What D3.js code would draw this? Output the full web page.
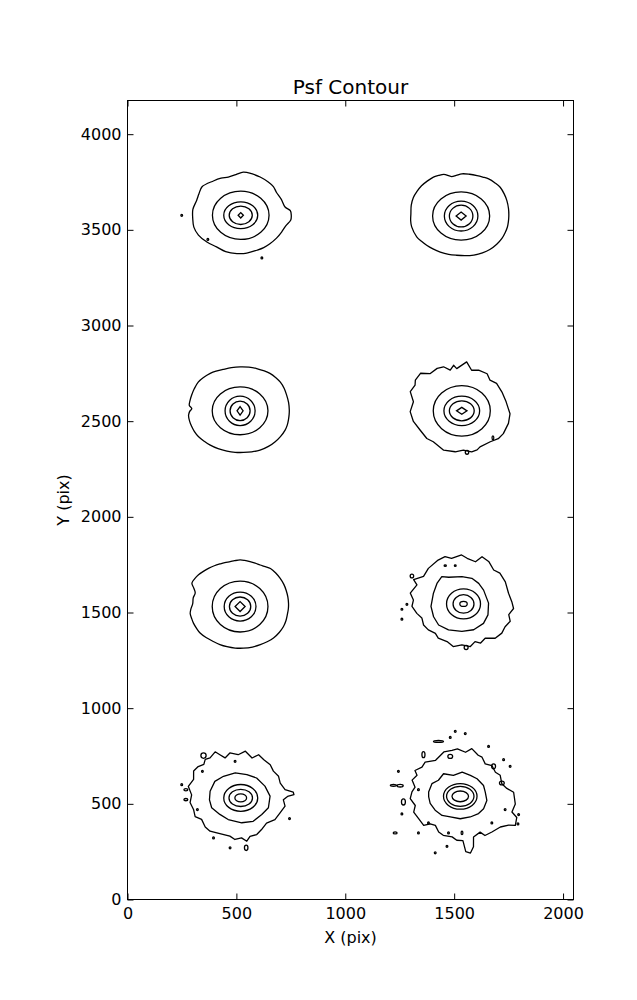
<!DOCTYPE html>
<html><head><meta charset="utf-8">
<script src="https://cdn.jsdelivr.net/npm/d3@7"></script>
<style>body{margin:0;background:#fff}svg{display:block}text{font-family:"DejaVu Sans",sans-serif;fill:#000}</style>
</head><body>
<svg id="chart" width="637" height="1000"></svg>
<script>
// ---------------- data ----------------
const chartTitle = "Psf Contour";
const xLabel = "X (pix)";
const yLabel = "Y (pix)";
const xDomain = [0, 2048];
const yDomain = [0, 4176];
const xTicks = [0, 500, 1000, 1500, 2000];
const yTicks = [0, 500, 1000, 1500, 2000, 2500, 3000, 3500, 4000];

// PSF centres (pix)
const starX = [520, 1532, 517, 1535, 517, 1543, 520, 1528];
const starY = [3576, 3572, 2554, 2554, 1531, 1545, 531, 539];
// innermost contour (diamond or blob), half sizes (pix)
const coreKind = ["diamond", "diamond", "diamond", "diamond", "diamond", "blob", "blob", "blob"];
const coreRX = [12, 23, 14, 24, 23, 17, 27, 38];
const coreRY = [14, 21, 22, 18, 26, 13, 21, 28];
// second and third contour (ellipses), half sizes (pix)
const ring2RX = [53, 54, 46, 57, 49, 48, 54, 63];
const ring2RY = [48, 57, 51, 52, 50, 48, 45, 52];
const ring3RX = [78, 77, 69, 82, 73, 78, 78, 77];
const ring3RY = [70, 78, 77, 77, 76, 78, 70, 67];
// fourth contour: ellipse for the smooth PSFs (null where irregular)
const ring4RX = [130, 131, 128, 131, 128, null, null, null];
const ring4RY = [126, 126, 125, 132, 133, null, null, null];
// irregular fourth contours, [angle deg, radius pix]
const ring4LR = [[2,115],[38,117],[57,128],[74,139],[93,143],[116,155],[125,174],[138,163],[158,149],[185,150],[206,153],[224,159],[243,152],[267,144],[289,143],[312,137],[333,126]];
const ring4BL = [[4,135],[29,127],[55,127],[77,125],[101,133],[125,138],[144,147],[166,145],[184,144],[201,143],[222,129],[243,127],[272,130],[295,135],[318,130],[338,137]];
const ring4BR = [[11,117],[28,121],[50,120],[67,119],[86,127],[106,114],[123,141],[140,131],[153,146],[171,147],[181,145],[195,143],[212,136],[230,130],[247,117],[270,117],[293,117],[313,123],[329,125],[350,124]];

// outermost contours, [angle deg, radius pix]
const outerTL = [[0,232],[6,229],[12,208],[24,204],[36,203],[45,212],[54,215],[66,219],[77,223],[87,226],[96,214],[106,208],[115,214],[125,219],[140,232],[150,222],[159,217],[172,222],[184,221],[196,224],[208,220],[222,209],[236,199],[250,202],[265,201],[278,200],[292,197],[302,199],[312,200],[324,203],[335,207],[345,214],[354,231]];
const outerTR = [[0,219],[10,221],[21,225],[30,229],[40,234],[48,233],[57,232],[64,227],[71,224],[80,222],[89,221],[96,214],[102,211],[110,232],[116,236],[122,240],[130,240],[139,241],[148,240],[156,240],[166,236],[177,231],[186,233],[194,234],[208,231],[216,225],[224,220],[233,215],[243,211],[254,208],[264,206],[275,208],[286,212],[297,216],[307,219],[318,220],[328,221],[337,220],[345,220],[352,219]];
const outerML = [[1,226],[11,227],[21,229],[30,234],[39,238],[47,239],[55,239],[63,236],[71,234],[80,232],[90,230],[100,229],[110,230],[118,235],[125,239],[134,242],[142,244],[151,240],[160,237],[167,236],[173,235],[177,222],[181,232],[186,238],[193,238],[200,237],[207,236],[215,234],[224,229],[232,226],[243,222],[254,219],[264,218],[274,218],[284,221],[294,225],[305,227],[315,228],[324,229],[334,230],[341,229],[348,227],[355,226]];
const outerMR = [[13,209],[28,209],[42,215],[51,206],[59,226],[70,226],[78,217],[85,257],[96,222],[99,241],[104,219],[110,245],[117,249],[127,243],[134,273],[143,267],[148,253],[157,257],[168,227],[181,237],[194,229],[208,216],[222,216],[231,208],[248,222],[262,216],[272,205],[282,219],[289,216],[294,206],[309,208],[319,222],[328,225],[343,224],[356,222]];
const outerLL = [[4,223],[13,225],[22,228],[30,232],[39,236],[47,240],[55,243],[61,239],[67,236],[73,237],[79,239],[85,242],[90,244],[96,241],[101,239],[107,240],[112,241],[119,244],[126,247],[133,250],[139,253],[145,254],[151,253],[156,232],[161,218],[168,220],[176,218],[183,226],[189,232],[196,231],[202,231],[210,230],[217,230],[226,225],[236,220],[245,219],[254,218],[264,218],[274,218],[285,219],[295,220],[304,222],[313,225],[323,225],[332,225],[341,223],[349,221],[357,222]];
const outerLR = [[3,222],[15,214],[31,224],[44,232],[52,225],[62,249],[71,261],[76,227],[86,239],[92,256],[103,244],[109,261],[117,257],[131,246],[142,233],[151,262],[155,236],[167,251],[175,231],[183,237],[193,220],[201,205],[211,214],[220,211],[230,201],[237,213],[249,211],[258,228],[268,214],[278,225],[285,204],[291,219],[299,205],[309,231],[319,233],[328,225],[337,233],[345,215],[354,231]];
const outerBL = [[2,215],[4,245],[7,243],[12,208],[23,197],[33,207],[43,205],[52,220],[62,226],[70,240],[76,215],[85,245],[93,226],[102,240],[109,221],[113,245],[116,268],[124,252],[129,259],[134,244],[140,255],[147,258],[156,237],[166,248],[176,226],[186,234],[196,225],[205,231],[212,212],[223,223],[231,224],[239,213],[248,207],[256,206],[263,219],[271,209],[277,228],[282,205],[291,205],[300,191],[312,177],[324,194],[337,197],[348,208],[357,196]];
const outerBR = [[5,246],[11,218],[19,202],[31,214],[38,205],[48,217],[56,205],[64,228],[69,230],[78,255],[84,232],[93,249],[99,243],[108,244],[121,220],[132,241],[139,233],[147,248],[151,227],[159,237],[167,213],[174,223],[183,230],[193,212],[201,229],[211,224],[222,226],[226,199],[233,190],[242,211],[249,218],[260,215],[266,230],[273,232],[275,290],[279,300],[283,270],[286,221],[296,208],[299,234],[308,236],[319,244],[326,268],[329,295],[337,282],[341,251],[351,256]];

// small isolated contours (noise islands): centre and half sizes (pix)
const islandX = [249,369,617, 1678,1559, 1306,1459,1505,1260,1283,1260,1555, 349,494,344,249,268,268,321,395,471,545,744, 1505,1551,1482,1428,1658,1727,1757,1681,1359,1482,1244,1221,1252,1267,1260,1336,1229,1336,1382,1474,1536,1673,1734,1796,1793,1413,1467,1719];
const islandY = [3576,3450,3353, 2413,2337, 1691,1745,1745,1517,1543,1465,1317, 752,722,670,600,574,522,470,322,270,270,423, 879,867,847,826,800,731,696,696,757,748,670,597,595,510,447,574,348,348,400,348,348,400,470,444,395,244,278,609];
const islandRX = [4,4,4, 4,8, 8,5,4,4,4,4,9, 12,4,4,4,9,9,4,4,4,8,4, 4,4,4,23,4,4,4,9,7,11,4,14,14,9,4,4,9,4,4,4,4,4,4,4,4,4,4,11];
const islandRY = [5,5,5, 10,10, 10,4,4,5,5,5,11, 14,5,5,5,6,6,5,5,5,14,5, 5,5,5,5,5,5,5,13,16,10,5,5,7,16,5,5,5,5,5,5,9,5,5,5,5,5,5,10];

const outerContours = [outerTL, outerTR, outerML, outerMR, outerLL, outerLR, outerBL, outerBR];
const ring4Irregular = [null, null, null, null, null, ring4LR, ring4BL, ring4BR];

// ---------------- drawing ----------------
const W = 637, H = 1000;
const L = 127.5, R = 573.5, T = 100.5, B = 899.5;
const svg = d3.select("#chart");
const x = d3.scaleLinear().domain(xDomain).range([L, R]);
const y = d3.scaleLinear().domain(yDomain).range([B, T]);

const clipId = "plotclip";
svg.append("defs").append("clipPath").attr("id", clipId)
  .append("rect").attr("x", L).attr("y", T).attr("width", R - L).attr("height", B - T);

const g = svg.append("g").attr("clip-path", `url(#${clipId})`);
const stroke = "#000", sw = 1.3;
const toRad = Math.PI / 180;
const polar = (i, pts) => pts.map(([a, r]) => [x(starX[i] + r * Math.cos(a * toRad)), y(starY[i] + r * Math.sin(a * toRad))]);
const lineLin = d3.line().curve(d3.curveLinearClosed);
const lineSmooth = d3.line().curve(d3.curveCatmullRomClosed.alpha(0.5));

starX.forEach((cx, i) => {
  const cy = starY[i];
  // outer contour
  const noisy = i >= 5 || i === 3;
  g.append("path").attr("d", (noisy ? lineLin : lineSmooth)(polar(i, outerContours[i])))
    .attr("fill", "none").attr("stroke", stroke).attr("stroke-width", sw).attr("stroke-linejoin", "round");
  // fourth contour
  if (ring4Irregular[i]) {
    g.append("path").attr("d", lineLin(polar(i, ring4Irregular[i])))
      .attr("fill", "none").attr("stroke", stroke).attr("stroke-width", sw).attr("stroke-linejoin", "round");
  } else {
    g.append("ellipse").attr("cx", x(cx)).attr("cy", y(cy))
      .attr("rx", x(ring4RX[i]) - x(0)).attr("ry", y(0) - y(ring4RY[i]))
      .attr("fill", "none").attr("stroke", stroke).attr("stroke-width", sw);
  }
  // third & second
  [[ring3RX, ring3RY], [ring2RX, ring2RY]].forEach(([rxA, ryA]) => {
    g.append("ellipse").attr("cx", x(cx)).attr("cy", y(cy))
      .attr("rx", x(rxA[i]) - x(0)).attr("ry", y(0) - y(ryA[i]))
      .attr("fill", "none").attr("stroke", stroke).attr("stroke-width", sw);
  });
  // core
  if (coreKind[i] === "diamond") {
    const pts = [[cx + coreRX[i], cy], [cx, cy + coreRY[i]], [cx - coreRX[i], cy], [cx, cy - coreRY[i]]]
      .map(([a, b]) => [x(a), y(b)]);
    g.append("path").attr("d", lineLin(pts)).attr("fill", "none")
      .attr("stroke", stroke).attr("stroke-width", sw).attr("stroke-linejoin", "miter");
  } else {
    g.append("ellipse").attr("cx", x(cx)).attr("cy", y(cy))
      .attr("rx", x(coreRX[i]) - x(0)).attr("ry", y(0) - y(coreRY[i]))
      .attr("fill", "none").attr("stroke", stroke).attr("stroke-width", sw);
  }
});

// islands
g.selectAll("ellipse.island").data(islandX).enter().append("ellipse")
  .attr("class", "island")
  .attr("cx", (d) => x(d)).attr("cy", (d, i) => y(islandY[i]))
  .attr("rx", (d, i) => x(islandRX[i]) - x(0)).attr("ry", (d, i) => y(0) - y(islandRY[i]))
  .attr("fill", "none").attr("stroke", stroke).attr("stroke-width", sw);

// axes (ticks inside on all sides)
const tickLen = 6;
const fmt = d3.format("d");
const axB = svg.append("g").attr("transform", `translate(0,${B})`)
  .call(d3.axisBottom(x).tickValues(xTicks).tickFormat(fmt).tickSizeInner(-tickLen).tickSizeOuter(0).tickPadding(8));
const axT = svg.append("g").attr("transform", `translate(0,${T})`)
  .call(d3.axisTop(x).tickValues(xTicks).tickFormat("").tickSizeInner(-tickLen).tickSizeOuter(0));
const axL = svg.append("g").attr("transform", `translate(${L},0)`)
  .call(d3.axisLeft(y).tickValues(yTicks).tickFormat(fmt).tickSizeInner(-tickLen).tickSizeOuter(0).tickPadding(6));
const axR = svg.append("g").attr("transform", `translate(${R},0)`)
  .call(d3.axisRight(y).tickValues(yTicks).tickFormat("").tickSizeInner(-tickLen).tickSizeOuter(0));
[axB, axT, axL, axR].forEach((a) => {
  a.select(".domain").remove();
  a.selectAll("line").attr("stroke", "#000").attr("stroke-width", 1);
  a.selectAll("text").attr("font-family", "DejaVu Sans").attr("font-size", 16).attr("fill", "#000");
});

// frame
svg.append("rect").attr("x", L).attr("y", T).attr("width", R - L).attr("height", B - T)
  .attr("fill", "none").attr("stroke", "#000").attr("stroke-width", 1);

// labels
svg.append("text").attr("x", (L + R) / 2).attr("y", 94).attr("text-anchor", "middle")
  .attr("font-size", 20).text(chartTitle);
svg.append("text").attr("x", (L + R) / 2).attr("y", 943).attr("text-anchor", "middle")
  .attr("font-size", 16).text(xLabel);
svg.append("text").attr("transform", `translate(69,${(T + B) / 2}) rotate(-90)`).attr("text-anchor", "middle")
  .attr("font-size", 16).text(yLabel);
</script>
</body></html>
